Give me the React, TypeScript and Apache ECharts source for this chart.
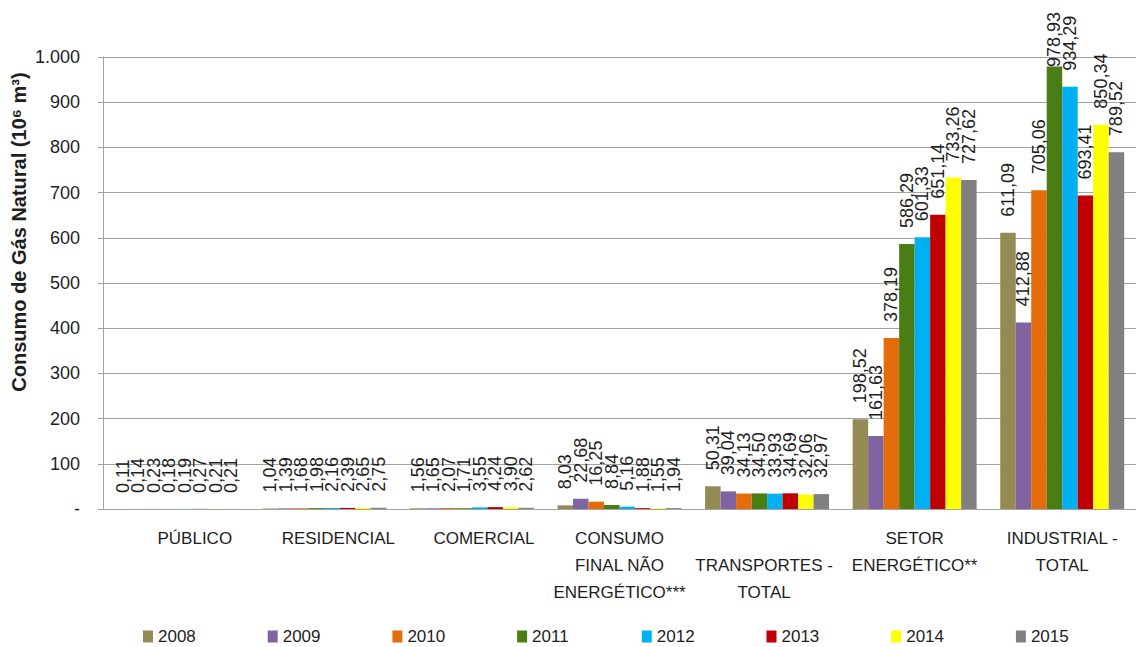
import React, { useEffect, useRef } from 'react';
import * as echarts from 'echarts';

// Consumo de gás natural por setor (10^6 m³), 2008–2015
const categories = [
  'PÚBLICO',
  'RESIDENCIAL',
  'COMERCIAL',
  'CONSUMO FINAL NÃO ENERGÉTICO***',
  'TRANSPORTES - TOTAL',
  'SETOR ENERGÉTICO**',
  'INDUSTRIAL - TOTAL',
];

// How each category name wraps under the axis
const categoryLines: string[][] = [
  ['PÚBLICO'],
  ['RESIDENCIAL'],
  ['COMERCIAL'],
  ['CONSUMO', 'FINAL NÃO', 'ENERGÉTICO***'],
  [' ', 'TRANSPORTES -', 'TOTAL'],
  ['SETOR', 'ENERGÉTICO**'],
  ['INDUSTRIAL -', 'TOTAL'],
];
// Horizontal nudge of each category name, in px
const categoryShift = [18, 14, 12, 0, -3, 0, 0];

const years = ['2008', '2009', '2010', '2011', '2012', '2013', '2014', '2015'];
const colors = ['#948A54', '#8064A2', '#E46C0A', '#4A7E14', '#00B0F0', '#C00000', '#FFFF00', '#808080'];

const v2008 = [0.11, 1.04, 1.56, 8.03, 50.31, 198.52, 611.09];
const v2009 = [0.14, 1.39, 1.65, 22.68, 39.04, 161.63, 412.88];
const v2010 = [0.23, 1.68, 2.07, 16.25, 34.13, 378.19, 705.06];
const v2011 = [0.18, 1.98, 1.71, 8.84, 34.5, 586.29, 978.93];
const v2012 = [0.19, 2.16, 3.55, 5.16, 33.93, 601.33, 934.29];
const v2013 = [0.27, 2.39, 4.24, 1.88, 34.69, 651.14, 693.41];
const v2014 = [0.21, 2.65, 3.9, 1.55, 32.06, 733.26, 850.34];
const v2015 = [0.21, 2.75, 2.62, 1.94, 32.97, 727.62, 789.52];
const seriesValues = [v2008, v2009, v2010, v2011, v2012, v2013, v2014, v2015];

const yMin = 0;
const yMax = 1000;
const yStep = 100;

const FONT = '"Liberation Sans", Arial, sans-serif';
const GRID_COLOR = '#A3A3A3';
const TEXT_COLOR = '#1E1E1E';
const LABEL_TOP = 12;

const fmtValue = (v: number) => v.toFixed(2).replace('.', ',');
const fmtTick = (v: number) => {
  if (v === 0) return '-';
  if (v >= 1000) return `${Math.floor(v / 1000)}.${String(v % 1000).padStart(3, '0')}`;
  return String(v);
};

export default function App() {
  const ref = useRef<HTMLDivElement>(null);

  useEffect(() => {
    if (!ref.current) return;
    const chart = echarts.init(ref.current, null, { renderer: 'svg' });

    const rich: Record<string, any> = {};
    categoryShift.forEach((d, i) => {
      rich['c' + i] = {
        fontFamily: FONT,
        fontSize: 17,
        lineHeight: 27,
        color: TEXT_COLOR,
        padding: d >= 0 ? [0, 0, 0, 2 * d] : [0, -2 * d, 0, 0],
      };
    });

    chart.setOption({
      animation: false,
      backgroundColor: '#ffffff',
      textStyle: { fontFamily: FONT },
      grid: { left: 103, right: -5, top: 57, bottom: 138, containLabel: false },
      legend: {
        data: years,
        left: 143,
        top: 628,
        padding: 0,
        icon: 'rect',
        itemWidth: 10,
        itemHeight: 12,
        itemGap: 69.7,
        textStyle: { fontFamily: FONT, fontSize: 17, lineHeight: 17, color: TEXT_COLOR, width: 40 },
      },
      xAxis: {
        type: 'category',
        data: categories,
        axisTick: { show: false },
        axisLine: { show: true, lineStyle: { color: GRID_COLOR, width: 1 } },
        axisLabel: {
          interval: 0,
          margin: 16,
          formatter: (_v: string, i: number) =>
            categoryLines[i].map((l) => `{c${i}|${l}}`).join('\n'),
          rich,
        },
      },
      yAxis: {
        type: 'value',
        min: yMin,
        max: yMax,
        interval: yStep,
        axisLine: { show: true, lineStyle: { color: GRID_COLOR, width: 1 } },
        axisTick: { show: true, length: 5, lineStyle: { color: GRID_COLOR } },
        splitLine: { show: true, lineStyle: { color: GRID_COLOR, width: 1 } },
        axisLabel: {
          margin: 23,
          fontFamily: FONT,
          fontSize: 18,
          color: TEXT_COLOR,
          formatter: fmtTick,
        },
      },
      graphic: [
        {
          type: 'text',
          x: 19,
          y: 232,
          rotation: Math.PI / 2,
          style: {
            text: 'Consumo de Gás Natural (10⁶ m³)',
            fontFamily: FONT,
            fontWeight: 'bold',
            fontSize: 20,
            fill: TEXT_COLOR,
            align: 'center',
            verticalAlign: 'middle',
          },
        },
      ],
      series: years.map((y, i) => ({
        name: y,
        type: 'bar',
        data: seriesValues[i],
        barGap: '0%',
        barCategoryGap: '16%',
        itemStyle: { color: colors[i] },
        label: {
          show: true,
          position: 'top',
          distance: 16,
          rotate: 90,
          align: 'left',
          verticalAlign: 'middle',
          fontFamily: FONT,
          fontSize: 18,
          color: TEXT_COLOR,
          formatter: (p: any) => fmtValue(Number(p.value)),
        },
        labelLayout: (params: any) => {
          const r = params.labelRect;
          if (r && r.y < LABEL_TOP) return { y: LABEL_TOP + r.height };
          return {};
        },
      })),
    });

    return () => chart.dispose();
  }, []);

  return (
    <div
      ref={ref}
      style={{ position: 'absolute', left: 0, top: 0, width: 1136, height: 647, background: '#fff' }}
    />
  );
}
